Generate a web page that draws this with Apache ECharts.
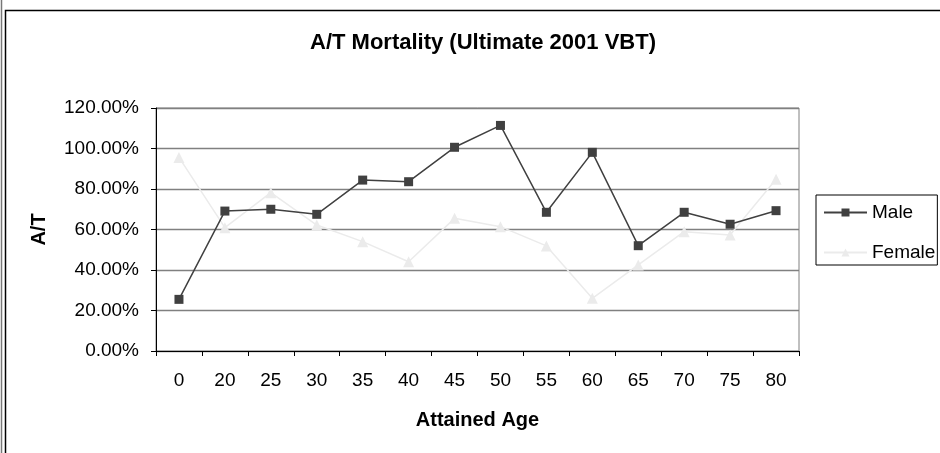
<!DOCTYPE html>
<html lang="en">
<head>
    <meta charset="UTF-8" />
    <title>A/T Mortality (Ultimate 2001 VBT)</title>
    <script src="https://cdn.jsdelivr.net/npm/echarts@6/dist/echarts.min.js"></script>
    <style>
        html, body { margin: 0; padding: 0; background: #fff; }
        #main { width: 940px; height: 453px; }
    </style>
</head>
<body>
<div id="main"></div>
<script>
// data (A/T in %)
let ages = ['0', '20', '25', '30', '35', '40', '45', '50', '55', '60', '65', '70', '75', '80'];
let male = [25.5, 69.1, 70.0, 67.5, 84.4, 83.6, 100.6, 111.4, 68.5, 98.1, 52.0, 68.5, 62.6, 69.3];
let female = [95.6, 60.9, 78.2, 62.2, 54.0, 44.1, 65.5, 61.4, 51.9, 26.0, 42.5, 58.9, 57.3, 84.8];

let font = 'Arial, "Liberation Sans", sans-serif';

let myChart = echarts.init(document.getElementById('main'));
myChart.setOption({
    animation: false,
    backgroundColor: '#fff',
    title: {
        text: 'A/T Mortality (Ultimate 2001 VBT)',
        left: 478,
        textAlign: 'center',
        top: 27,
        textStyle: { fontFamily: font, fontSize: 22, fontWeight: 'bold', color: '#000' }
    },
    graphic: [
        { type: 'rect', shape: { x: 5.5, y: 10.5, width: 940, height: 450 },
          style: { fill: 'none', stroke: '#000', lineWidth: 1.5 } },
        { type: 'line', shape: { x1: 1.5, y1: 0, x2: 1.5, y2: 453 },
          style: { stroke: '#777', lineWidth: 1.5 } }
    ],
    legend: {
        orient: 'vertical',
        left: 816,
        top: 195,
        padding: [8, 2, 3, 7],
        itemGap: 21,
        itemWidth: 43,
        itemHeight: 10,
        borderColor: '#000',
        borderWidth: 1,
        textStyle: { fontFamily: font, fontSize: 19, color: '#000' },
        data: ['Male', 'Female']
    },
    grid: {
        left: 156, right: 141, top: 108, bottom: 102,
        show: true, borderColor: '#808080', borderWidth: 1
    },
    xAxis: {
        type: 'category',
        data: ages,
        boundaryGap: true,
        name: 'Attained Age',
        nameLocation: 'middle',
        nameGap: 59,
        nameTextStyle: { fontFamily: font, fontSize: 20, fontWeight: 'bold', color: '#000' },
        axisLine: { lineStyle: { color: '#000', width: 1 } },
        axisTick: { show: true, length: 5, alignWithLabel: false, lineStyle: { color: '#000' } },
        axisLabel: { fontFamily: font, fontSize: 19, color: '#000', margin: 20 },
        splitLine: { show: false }
    },
    yAxis: {
        type: 'value',
        min: 0, max: 120, interval: 20,
        name: 'A/T',
        nameLocation: 'middle',
        nameGap: 107,
        nameRotate: 90,
        nameTextStyle: { fontFamily: font, fontSize: 20, fontWeight: 'bold', color: '#000' },
        axisLine: { show: true, lineStyle: { color: '#000', width: 1 } },
        axisTick: { show: true, length: 5, lineStyle: { color: '#000' } },
        axisLabel: {
            fontFamily: font, fontSize: 19, color: '#000', margin: 17,
            formatter: function (v) { return v.toFixed(2) + '%'; }
        },
        splitLine: { show: true, lineStyle: { color: '#808080', width: 1.3 } }
    },
    series: [
        {
            name: 'Male',
            type: 'line',
            data: male,
            symbol: 'rect',
            symbolSize: 9,
            itemStyle: { color: '#404040' },
            lineStyle: { color: '#404040', width: 1.5 },
            z: 3
        },
        {
            name: 'Female',
            type: 'line',
            data: female,
            symbol: 'triangle',
            symbolSize: 11,
            itemStyle: { color: '#ebebeb' },
            lineStyle: { color: '#ebebeb', width: 1.5 },
            z: 2
        }
    ]
});
</script>
</body>
</html>
